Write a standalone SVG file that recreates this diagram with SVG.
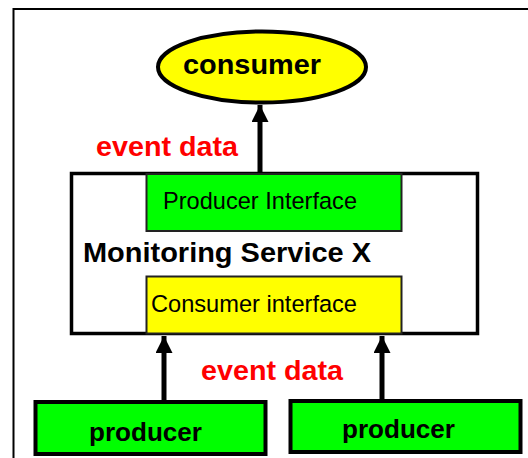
<svg xmlns="http://www.w3.org/2000/svg" width="528" height="458" viewBox="0 0 528 458">
<defs>
<style>
.b{font-family:"Liberation Sans",Arial,sans-serif;font-weight:bold;}
.n{font-family:"Liberation Sans",Arial,sans-serif;font-size:23.7px;}
.red{fill:#ff0000;font-size:28px;}
.conn{stroke:#000;stroke-width:5;fill:none;}
</style>
<marker id="ah" viewBox="0 0 10 10" refX="10" refY="5" markerWidth="3.4" markerHeight="3.4" markerUnits="strokeWidth" orient="auto">
<path d="M0,0 L10,5 L0,10 z" fill="#000"/>
</marker>
</defs>
<rect width="528" height="458" fill="#fff"/>
<path d="M13.5,458 V9 H528" fill="none" stroke="#000" stroke-width="2"/>
<g id="consumer">
<ellipse cx="262" cy="67" rx="104" ry="35.5" fill="#ffff00" stroke="#000" stroke-width="4"/>
<text x="183" y="74" class="b" font-size="28" textLength="138" lengthAdjust="spacingAndGlyphs">consumer</text>
</g>
<g id="monitoring-service">
<rect x="71.5" y="173.5" width="406" height="160" fill="#fff" stroke="#000" stroke-width="3.5"/>
<text x="83" y="262" class="b" font-size="28" textLength="288" lengthAdjust="spacingAndGlyphs">Monitoring Service X</text>
</g>
<g id="producer-interface">
<rect x="146.5" y="174" width="255" height="57" fill="#00ff00" stroke="#222" stroke-width="2"/>
<text x="163" y="209" class="n" textLength="194" lengthAdjust="spacingAndGlyphs">Producer Interface</text>
</g>
<g id="consumer-interface">
<rect x="146.5" y="276.5" width="255" height="57" fill="#ffff00" stroke="#222" stroke-width="2"/>
<text x="151" y="312" class="n" textLength="206" lengthAdjust="spacingAndGlyphs">Consumer interface</text>
</g>
<g id="producer1">
<rect x="35.5" y="402" width="230" height="52" fill="#00ff00" stroke="#000" stroke-width="4"/>
<text x="89" y="441" class="b" font-size="26" textLength="113" lengthAdjust="spacingAndGlyphs">producer</text>
</g>
<g id="producer2">
<rect x="290.5" y="401" width="230" height="51" fill="#00ff00" stroke="#000" stroke-width="4"/>
<text x="342" y="438" class="b" font-size="26" textLength="113" lengthAdjust="spacingAndGlyphs">producer</text>
</g>
<g id="connectors">
<line x1="260" y1="172" x2="260" y2="105" class="conn" marker-end="url(#ah)"/>
<line x1="164" y1="400" x2="164" y2="336" class="conn" marker-end="url(#ah)"/>
<line x1="382" y1="399" x2="382" y2="336" class="conn" marker-end="url(#ah)"/>
</g>
<g id="labels">
<text x="96" y="156" class="b red" textLength="142" lengthAdjust="spacingAndGlyphs">event data</text>
<text x="201" y="380" class="b red" textLength="142" lengthAdjust="spacingAndGlyphs">event data</text>
</g>
</svg>
